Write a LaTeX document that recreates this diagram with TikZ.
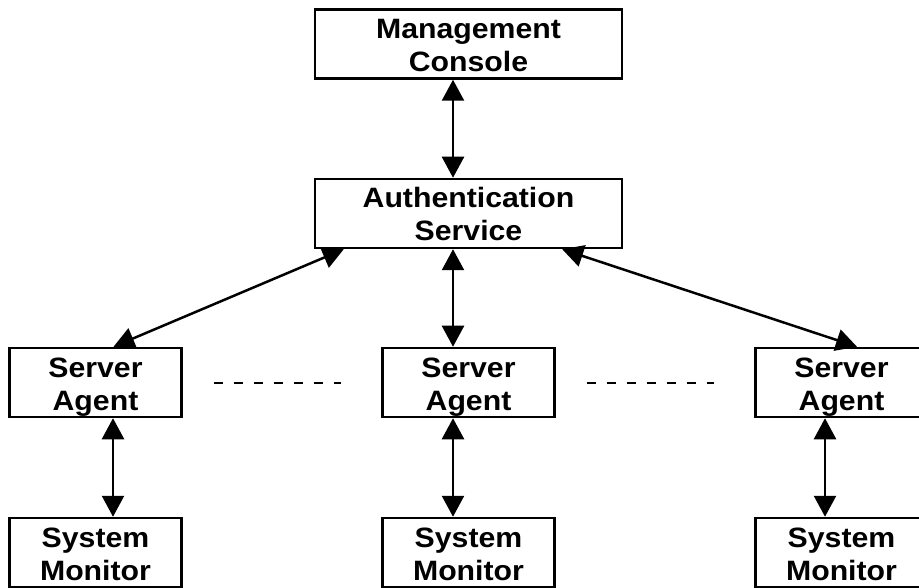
\documentclass[tikz,border=0pt]{standalone}
\usepackage{fontspec}
\setmainfont{Liberation Sans}[FakeStretch=1.08]
\usetikzlibrary{arrows.meta}

\begin{document}
\begin{tikzpicture}[x = 1pt, y = -1pt,
    box/.style = {draw, line width = 2.5pt, minimum width = 172pt, minimum height = 69pt, inner sep = 0pt, align = center, text height = 55pt, text depth = 0pt, font = \fontsize{28}{33}\selectfont\bfseries},
    widebox/.style = {box, minimum width = 307pt},
    link/.style = {line width = 2.5pt, {Triangle[length = 21pt, width = 22pt]}-{Triangle[length = 21pt, width = 22pt]}}]
    \useasboundingbox (0,0) rectangle (919,588);
    \clip (0,0) rectangle (919,588);
    \node[widebox] (mc) at (468.5,44) {Management\\Console};
    \node[widebox] (auth) at (468.5,213.5) {Authentication\\Service};
    \foreach \i/\x/\dx in {1/95.5/17.5, 2/468.5/-15.5, 3/841.5/-16.5} {
        \node[box] (ag\i) at (\x,382.5) {Server\\Agent};
        \node[box] (sm\i) at (\x,552.5) {System\\Monitor};
        \draw[link] ([xshift = \dx pt]ag\i.south) -- ([xshift = \dx pt]sm\i.north);
    }
    \draw[link] ([xshift = -15.5pt]mc.south) -- ([xshift = -15.5pt]auth.north);
    \draw[link] ([xshift = -15.5pt]auth.south) -- ([xshift = -15.5pt]ag2.north);
    \draw[link] ([xshift = 30pt]auth.south west) -- ([xshift = 18pt]ag1.north);
    \draw[link] ([xshift = -61pt]auth.south east) -- ([xshift = 15.5pt]ag3.north);
    % dashed gaps between the agents
    \draw[line width = 2pt, dash pattern = on 9pt off 11pt] ([xshift = 31.5pt]ag1.east) -- ([xshift = -40.5pt]ag2.west);
    \draw[line width = 2pt, dash pattern = on 9pt off 11pt] ([xshift = 31.5pt]ag2.east) -- ([xshift = -40.5pt]ag3.west);
\end{tikzpicture}
\end{document}
